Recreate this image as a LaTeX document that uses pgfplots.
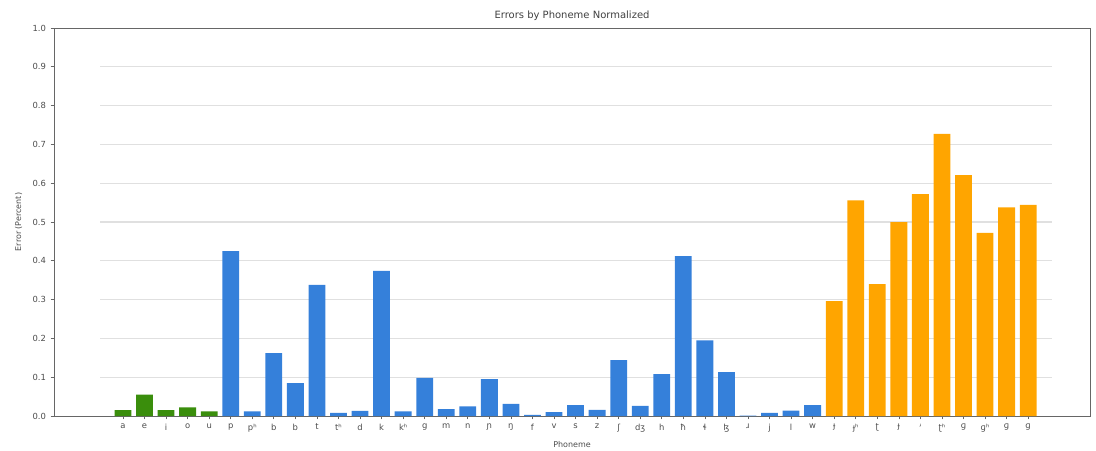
\documentclass[border=0pt]{standalone}
\usepackage{pgfplots}
\pgfplotsset{compat=1.18}
\usepackage{fontspec}
\setmainfont{DejaVu Sans}
\definecolor{cgreen}{HTML}{3A8E0C}
\definecolor{cblue}{HTML}{3580DA}
\definecolor{corange}{HTML}{FFA500}
\begin{document}
\begin{tikzpicture}
\path[use as bounding box] (-40.5pt,-25.5pt) rectangle (781.5pt,312pt);
\begin{axis}[
  at={(0,0)}, anchor=south west,
  scale only axis, width=777pt, height=291pt,
  xmin=-3.2, xmax=44.87, ymin=0, ymax=1,
  ytick={0,0.1,...,1.0},
  yticklabel style={/pgf/number format/.cd, fixed, fixed zerofill, precision=1},
  /pgf/number format/assume math mode=true,
  xtick={0,...,42},
  xticklabels={a,e,i,o,u,p,pʰ,b,b,t,tʰ,d,k,kʰ,g,m,n,ɲ,ŋ,f,v,s,z,ʃ,dʒ,h,ħ,ɬ,ɮ,ɹ,j,l,w,ɟ,ɟʰ,ʈ,ɟ,ʴ,ʈʰ,ɡ,ɡʰ,ɡ,ɡ},
  tick align=outside, xtick pos=bottom, ytick pos=left,
  major tick length=2.5pt,
  tick style={black!60, line width=0.5pt},
  ticklabel style={font=\fontsize{6.3}{7}\selectfont, text=black!70},
  axis line style={black!60, line width=0.6pt},
  title={Errors by Phoneme Normalized},
  title style={font=\fontsize{7.5}{8}\selectfont, text=black!75, yshift=-4pt},
  xlabel={Phoneme}, ylabel={Error (Percent)},
  label style={font=\fontsize{6}{7}\selectfont, text=black!70},
  xlabel style={yshift=0pt},
  ylabel style={yshift=1pt},
  ybar, bar width=0.78, bar shift=0pt,
  clip=false,
]
\pgfplotsinvokeforeach{0.1,0.2,0.3,0.4,0.5,0.6,0.7,0.8,0.9}{
  \draw[black!12, line width=0.8pt] (axis cs:-1.07,#1) -- (axis cs:43.1,#1);
}
\addplot[fill=cgreen, draw=none] coordinates {
(0,0.015) (1,0.055) (2,0.015) (3,0.022) (4,0.012)};
\addplot[fill=cblue, draw=none] coordinates {
(5,0.425) (6,0.012) (7,0.162) (8,0.085) (9,0.338) (10,0.008) (11,0.013)
(12,0.374) (13,0.012) (14,0.098) (15,0.018) (16,0.025) (17,0.095) (18,0.031)
(19,0.003) (20,0.010) (21,0.028) (22,0.016) (23,0.144) (24,0.026) (25,0.108)
(26,0.412) (27,0.195) (28,0.113) (29,0.001) (30,0.008) (31,0.014) (32,0.028)};
\addplot[fill=corange, draw=none] coordinates {
(33,0.296) (34,0.556) (35,0.340) (36,0.500) (37,0.572) (38,0.727) (39,0.621)
(40,0.472) (41,0.538) (42,0.544)};
\end{axis}
\end{tikzpicture}
\end{document}
